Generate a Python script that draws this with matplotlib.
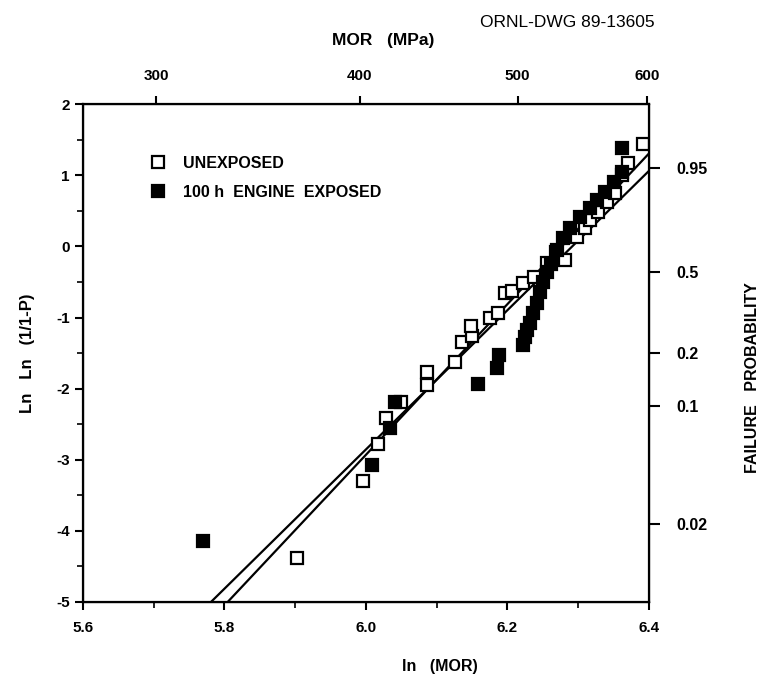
import matplotlib
matplotlib.use("Agg")
import matplotlib.pyplot as plt
import numpy as np

plt.rcParams['font.family'] = ['Liberation Sans', 'DejaVu Sans']
plt.rcParams['font.weight'] = 'bold'
plt.rcParams['axes.unicode_minus'] = False

# unexposed specimens: ln(MOR) and ln ln(1/(1-P))
unexp_x = [5.903, 5.996, 6.017, 6.029, 6.050, 6.087, 6.087, 6.126, 6.136, 6.150,
           6.149, 6.176, 6.187, 6.197, 6.207, 6.222, 6.237, 6.256, 6.268, 6.282,
           6.299, 6.310, 6.317, 6.328, 6.341, 6.352, 6.362, 6.371, 6.392]
unexp_y = [-4.39, -3.30, -2.78, -2.42, -2.19, -1.95, -1.77, -1.63, -1.35, -1.26,
           -1.12, -1.01, -0.93, -0.66, -0.62, -0.52, -0.43, -0.24, -0.08, -0.19,
           0.13, 0.26, 0.37, 0.48, 0.62, 0.75, 1.00, 1.17, 1.44]

# 100 h engine exposed specimens
exp_x = [5.770, 6.009, 6.034, 6.041, 6.159, 6.186, 6.188, 6.222, 6.225, 6.228,
         6.232, 6.236, 6.242, 6.246, 6.251, 6.256, 6.262, 6.270, 6.279, 6.289,
         6.303, 6.317, 6.327, 6.338, 6.350, 6.362, 6.362]
exp_y = [-4.15, -3.08, -2.56, -2.19, -1.94, -1.71, -1.53, -1.39, -1.28, -1.18,
         -1.08, -0.94, -0.80, -0.64, -0.50, -0.36, -0.25, -0.05, 0.12, 0.26,
         0.41, 0.54, 0.65, 0.76, 0.90, 1.04, 1.38]

# weibull fits: modulus and characteristic strength (MPa)
fit_m = [9.8, 10.6]
fit_s0 = [540, 532]

mor_ticks = [300, 400, 500, 600]
prob_ticks = [0.95, 0.5, 0.2, 0.1, 0.02]
prob_labels = ['0.95', '0.5', '0.2', '0.1', '0.02']

fig = plt.figure(figsize=(7.59, 6.77), dpi=100)
ax = fig.add_axes([0.109, 0.111, 0.746, 0.735])

xx = np.linspace(5.6, 6.4, 50)
for m, s0 in zip(fit_m, fit_s0):
    ax.plot(xx, m * (xx - np.log(s0)), color='black', lw=1.6)

ax.plot(unexp_x, unexp_y, 's', ms=8, mfc='white', mec='black', mew=1.6,
        label='UNEXPOSED')
ax.plot(exp_x, exp_y, 's', ms=8, mfc='black', mec='black', mew=1.6,
        label='100 h  ENGINE  EXPOSED')

ax.set_xlim(5.6, 6.4)
ax.set_ylim(-5, 2)
ax.set_xticks([5.6, 5.8, 6.0, 6.2, 6.4])
ax.set_xticklabels(['5.6', '5.8', '6.0', '6.2', '6.4'])
ax.set_xticks([5.7, 5.9, 6.1, 6.3], minor=True)
ax.set_yticks(range(-5, 3))
ax.set_yticks(np.arange(-4.5, 2, 1.0), minor=True)
ax.tick_params(which='major', direction='out', length=6, width=1.5,
               labelsize=11, top=False, right=False)
ax.tick_params(which='minor', direction='out', length=4, width=1.2,
               top=False, right=False)
ax.tick_params(axis='x', pad=8)
for s in ax.spines.values():
    s.set_linewidth(1.6)

ax.set_xlabel('ln   (MOR)', fontsize=11.5, fontweight='bold')
ax.xaxis.set_label_coords(0.63, -0.115)
ax.set_ylabel('Ln   Ln   (1/1-P)', fontsize=12, fontweight='bold')
ax.yaxis.set_label_coords(-0.085, 0.5)

leg = ax.legend(loc='upper left', bbox_to_anchor=(0.093, 0.925), frameon=False,
                fontsize=11.5, handletextpad=1.1, labelspacing=0.85,
                handlelength=1.0)

# top axis: MOR in MPa
axt = ax.twiny()
axt.set_xlim(ax.get_xlim())
axt.set_xticks(np.log(mor_ticks))
axt.set_xticklabels([str(v) for v in mor_ticks])
axt.tick_params(direction='out', length=6, width=1.5, labelsize=11, pad=9)
axt.set_xlabel('MOR   (MPa)', fontsize=12.5, fontweight='bold')
axt.xaxis.set_label_coords(0.53, 1.12)

# right axis: failure probability
axr = ax.twinx()
axr.set_ylim(ax.get_ylim())
axr.set_yticks(np.log(-np.log(1 - np.array(prob_ticks))))
axr.set_yticklabels(prob_labels)
axr.tick_params(direction='out', length=8, width=1.5, labelsize=11.5, pad=12)
axr.set_ylabel('FAILURE   PROBABILITY', fontsize=11.5, fontweight='bold')
axr.yaxis.set_label_coords(1.17, 0.45)

fig.text(0.632, 0.978, 'ORNL-DWG 89-13605', fontsize=12.5, fontweight='normal',
         va='top')

fig.savefig('out.png', dpi=100)
